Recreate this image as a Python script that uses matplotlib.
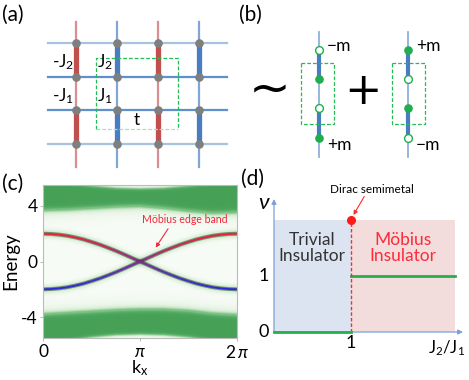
import numpy as np
import matplotlib
matplotlib.use("Agg")
import matplotlib.pyplot as plt
from matplotlib.colors import LinearSegmentedColormap, to_rgb
from matplotlib.collections import LineCollection
from matplotlib.patches import Rectangle

plt.rcParams['font.family'] = ['Lato', 'DejaVu Sans']
plt.rcParams['mathtext.fontset'] = 'custom'
plt.rcParams['mathtext.rm'] = 'Lato'
plt.rcParams['mathtext.it'] = 'Lato:italic'

# ---------------- data ----------------
# panel (a): lattice column signs (negative -> red, positive -> blue)
col_signs = [-1, +1, -1, +1]
n_rows = 4
bond_labels = ['-J$_2$', 'J$_2$', '-J$_1$', 'J$_1$', 't']

# panel (b): two chains, sublattice masses (+1 filled, -1 open)
chain_left = [-1, +1, -1, +1]
chain_right = [+1, -1, +1, -1]

# panel (c): edge band at kx = k*pi/12
kx_edge = np.arange(25) * np.pi / 12
edge_upper = [2.00, 1.98, 1.93, 1.85, 1.73, 1.59, 1.41, 1.22, 1.00, 0.77, 0.52, 0.26, 0.00,
              0.26, 0.52, 0.77, 1.00, 1.22, 1.41, 1.59, 1.73, 1.85, 1.93, 1.98, 2.00]
edge_lower = [-v for v in edge_upper]
# bulk band edges at kx = k*pi/4
kx_bulk = np.arange(9) * np.pi / 4
up_inner = [3.70, 3.75, 3.85, 3.95, 4.00, 3.85, 3.65, 3.50, 3.55]
up_outer = [5.90, 5.70, 5.45, 5.30, 5.25, 5.30, 5.45, 5.70, 5.90]
lo_inner = [-3.80, -3.70, -3.60, -3.50, -3.45, -3.45, -3.55, -3.75, -3.85]
lo_outer = [-5.90, -5.70, -5.45, -5.30, -5.25, -5.30, -5.45, -5.70, -5.90]
c_xticks = [0, np.pi, 2 * np.pi]
c_xticklabels = ['0', r'$\pi$', r'2$\,\pi$']
c_yticks = [4, 0, -4]
c_yticklabels = ['4', '0', '-4']

# panel (d): phase diagram
d_boundary = 1.0
d_xmax = 2.34
nu_trivial = 0
nu_mobius = 1
d_top = 2.0

# ---------------- figure ----------------
fig = plt.figure(figsize=(4.69, 3.8), dpi=100)

# ---------- panel (c) ----------
axc = fig.add_axes([43 / 469, (380 - 338) / 380, 194 / 469, 153 / 380])
kx_img = np.linspace(0, 2 * np.pi, 400)
E_img = np.linspace(-5.5, 5.5, 460)
K, E = np.meshgrid(kx_img, E_img)

def sig(x):
    return 1.0 / (1.0 + np.exp(-x))

ui = np.interp(kx_img, kx_bulk, up_inner)[None, :]
uo = np.interp(kx_img, kx_bulk, up_outer)[None, :]
li = np.interp(kx_img, kx_bulk, lo_inner)[None, :]
lo = np.interp(kx_img, kx_bulk, lo_outer)[None, :]
eu = np.interp(kx_img, kx_edge, edge_upper)[None, :]
el = np.interp(kx_img, kx_edge, edge_lower)[None, :]

I = 0.04 * np.ones_like(E)
I += 0.95 * sig((E - ui) / 0.09) * sig((uo - E) / 0.06)
I += 0.95 * sig((li - E) / 0.09) * sig((E - lo) / 0.06)
I += 0.20 * np.exp(-np.clip(ui - E, 0, None) / 0.4) * (E < ui)
I += 0.20 * np.exp(-np.clip(E - li, 0, None) / 0.4) * (E > li)
I += 0.28 * np.exp(-(E - eu) ** 2 / (2 * 0.2 ** 2))
I += 0.28 * np.exp(-(E - el) ** 2 / (2 * 0.2 ** 2))
I = np.clip(I, 0, 1)

cmap = LinearSegmentedColormap.from_list(
    'gr', [(0, '#ffffff'), (0.08, '#f0f8ee'), (0.3, '#c6e6c4'),
           (0.6, '#7cc283'), (1.0, '#45a157')])
axc.imshow(I, extent=[0, 2 * np.pi, -5.5, 5.5], origin='lower', aspect='auto',
           cmap=cmap, vmin=0, vmax=1, interpolation='bilinear')

red = np.array(to_rgb('#ee2233'))
blue = np.array(to_rgb('#2b2bd6'))
purple = np.array(to_rgb('#8a2a9a'))
for vals, col in ((edge_upper, red), (edge_lower, blue)):
    v = np.array(vals)
    axc.plot(kx_edge, v, color='#1c3a22', lw=2.8, alpha=0.5, solid_capstyle='butt')
    pts = np.column_stack([kx_edge, v])
    segs = np.stack([pts[:-1], pts[1:]], axis=1)
    frac = np.clip(np.abs(0.5 * (v[:-1] + v[1:])) / 2.0, 0, 1)[:, None] ** 0.8
    cols = purple * (1 - frac) + col * frac
    axc.add_collection(LineCollection(segs, colors=cols, linewidths=1.4))

axc.set_xlim(0, 2 * np.pi)
axc.set_ylim(-5.5, 5.5)
axc.set_xticks(c_xticks)
axc.set_xticklabels(c_xticklabels)
axc.set_yticks(c_yticks)
axc.set_yticklabels(c_yticklabels)
axc.tick_params(labelsize=12.5, length=2, width=0.6, color='#aaaaaa', pad=2)
for s in axc.spines.values():
    s.set_color('#bbbbbb')
    s.set_linewidth(0.8)
axc.set_xlabel(r'k$_\mathrm{x}$', fontsize=13, va='top')
axc.xaxis.set_label_coords(0.5, -0.135)
axc.set_ylabel('Energy', fontsize=13.5, labelpad=1)
axc.text(4.6, 3.0, 'Möbius edge band', color='#ee2a3c', fontsize=7.6,
         ha='center', va='center')
axc.annotate('', xy=(3.65, 1.0), xytext=(4.05, 2.35),
             arrowprops=dict(arrowstyle='-|>', color='#ee2a3c', lw=0.8,
                             mutation_scale=6, shrinkA=0, shrinkB=0))

# ---------- panel (d) ----------
axd = fig.add_axes([274 / 469, (380 - 332) / 380, 189 / 469, 133 / 380])
axd.set_xlim(0, 2.45)
axd.set_ylim(0, 2.375)
axd.axis('off')
axd.add_patch(Rectangle((0, 0), d_boundary, d_top, color='#dbe4f0', lw=0))
axd.add_patch(Rectangle((d_boundary, 0), d_xmax - d_boundary, d_top, color='#f2dcdc', lw=0))
axd.plot([0, d_boundary], [nu_trivial, nu_trivial], color='#22b14c', lw=2.0, clip_on=False, zorder=4)
axd.plot([d_boundary, d_xmax], [nu_mobius, nu_mobius], color='#22b14c', lw=2.0)
axd.plot([d_boundary, d_boundary], [0, d_top], color='#ff2a2a', lw=1.0, ls=(0, (2.5, 1.5)))
axd.plot([d_boundary], [d_top], 'o', color='#ff1a1a', ms=5.5, clip_on=False, zorder=5)
arr = dict(arrowstyle='-|>', color='#7aa2d6', lw=0.9, mutation_scale=7, shrinkA=0, shrinkB=0)
axd.annotate('', xy=(2.45, 0), xytext=(0, 0), arrowprops=arr, annotation_clip=False)
axd.annotate('', xy=(0, 2.375), xytext=(0, 0), arrowprops=arr, annotation_clip=False)
axd.text(-0.07, 0, '0', fontsize=13, ha='right', va='center', clip_on=False)
axd.text(-0.07, 1, '1', fontsize=13, ha='right', va='center', clip_on=False)
axd.text(1.0, -0.06, '1', fontsize=13, ha='center', va='top', clip_on=False)
axd.text(2.24, -0.12, 'J$_2$/J$_1$', fontsize=12, ha='center', va='top', clip_on=False)
axd.text(-0.12, 2.3, r'$\nu$', fontsize=16, ha='center', va='center', clip_on=False)
axd.text(0.49, 1.5, 'Trivial\nInsulator', fontsize=12.5, ha='center', va='center',
         color='#333333', linespacing=1.0)
axd.text(1.67, 1.5, 'Möbius\nInsulator', fontsize=12.5, ha='center', va='center',
         color='#ff2a3a', linespacing=1.0)
axd.text(1.27, 2.54, 'Dirac semimetal', fontsize=8.5, ha='center', va='center', clip_on=False)
axd.annotate('', xy=(1.03, 2.09), xytext=(1.17, 2.42),
             arrowprops=dict(arrowstyle='-|>', color='#ff2a2a', lw=0.8,
                             mutation_scale=6, shrinkA=0, shrinkB=0),
             annotation_clip=False)

# ---------- overlay for (a), (b) and panel letters ----------
ov = fig.add_axes([0, 0, 1, 1], zorder=10)
ov.set_xlim(0, 469)
ov.set_ylim(380, 0)
ov.axis('off')
ov.patch.set_alpha(0)

for lbl, (x, y) in zip(['(a)', '(b)', '(c)', '(d)'],
                       [(13, 15), (250, 15), (13, 184), (253, 179)]):
    ov.text(x, y, lbl, fontsize=15, ha='center', va='center')

# panel (a)
x0, dx, y0, dy = 76, 41, 43, 33.7
rows_y = [y0 + i * dy for i in range(n_rows)]
cols_x = [x0 + j * dx for j in range(len(col_signs))]
for i, y in enumerate(rows_y):
    c = '#a7c1e0' if i in (0, n_rows - 1) else '#5f90cc'
    ov.plot([48, 227], [y, y], color=c, lw=1.6, zorder=1)
for x, s in zip(cols_x, col_signs):
    thick = '#c0504d' if s < 0 else '#4a7cc0'
    thin = '#d98f8f' if s < 0 else '#80a6d8'
    ov.plot([x, x], [22, rows_y[0]], color=thin, lw=1.6, zorder=1)
    ov.plot([x, x], [rows_y[1], rows_y[2]], color=thin, lw=1.6, zorder=1)
    ov.plot([x, x], [rows_y[3], 167], color=thin, lw=1.6, zorder=1)
    ov.plot([x, x], [rows_y[0], rows_y[1]], color=thick, lw=3.8, zorder=2, solid_capstyle='butt')
    ov.plot([x, x], [rows_y[2], rows_y[3]], color=thick, lw=3.8, zorder=2, solid_capstyle='butt')
    for y in rows_y:
        ov.plot([x], [y], 'o', color='#7f7f7f', ms=6.2, mec='none', zorder=3)
ov.plot([96, 96, 178, 178], [129, 58, 58, 129], color='#22bb55', lw=0.9, ls=(0, (3, 1.6)), zorder=4)
ov.plot([96, 178], [129, 129], color='#a8e2b8', lw=0.9, ls=(0, (3, 1.6)), zorder=4)
for lbl, (x, y) in zip(bond_labels, [(63, 62), (105, 62), (63, 96), (105, 96), (137, 120)]):
    ov.text(x, y, lbl, fontsize=12.5, ha='center', va='center', zorder=5)

# panel (b)
green = '#1fae4f'
node_y = [50, 79, 108, 138]
for cx, chain, rect_x in ((319, chain_left, 301), (408, chain_right, 392)):
    ov.plot([cx, cx], [32, 157], color='#8fb0dc', lw=1.3, zorder=1)
    ov.plot([cx, cx], [node_y[0], node_y[1]], color='#4a7cc0', lw=3.0, zorder=2)
    ov.plot([cx, cx], [node_y[2], node_y[3]], color='#4a7cc0', lw=3.0, zorder=2)
    for y, m in zip(node_y, chain):
        if m > 0:
            ov.plot([cx], [y], 'o', color=green, ms=5.2, mec=green, zorder=3)
        else:
            ov.plot([cx], [y], 'o', color='white', ms=5.6, mec=green, mew=1.0, zorder=3)
    ov.add_patch(Rectangle((rect_x, 63), 33, 61, fill=False, ec='#22bb55', lw=0.9,
                           ls=(0, (3, 1.6)), zorder=4))
    top_lbl = '+m' if chain[0] > 0 else '−m'
    bot_lbl = '+m' if chain[-1] > 0 else '−m'
    ov.text(cx + 8, 46, top_lbl, fontsize=12.5, ha='left', va='center')
    ov.text(cx + 8, 145, bot_lbl, fontsize=12.5, ha='left', va='center')
ov.text(270, 90, '~', fontsize=36, ha='center', va='center', family='DejaVu Sans')
ov.text(363, 92, '+', fontsize=32, ha='center', va='center', family='DejaVu Sans')

fig.savefig('out.png', dpi=100)
